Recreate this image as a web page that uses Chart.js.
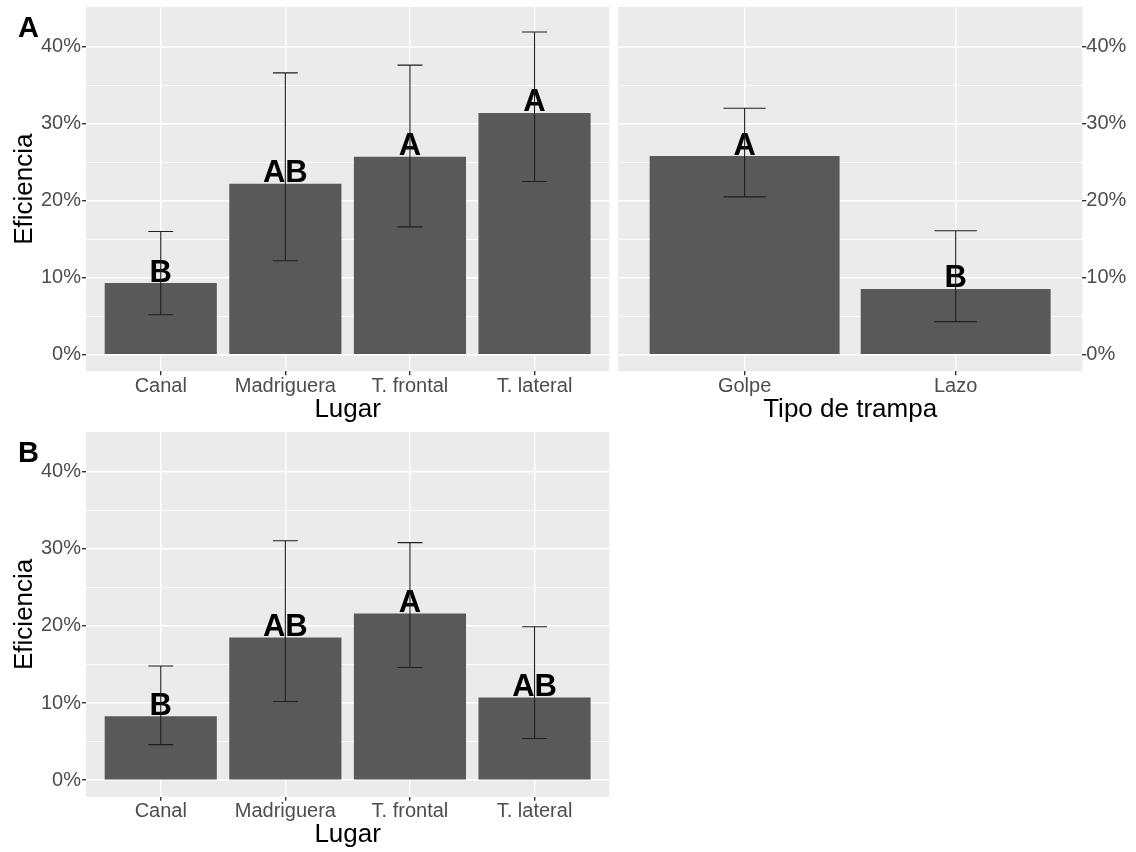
<!DOCTYPE html>
<html>
<head>
<meta charset="utf-8">
<script src="https://cdn.jsdelivr.net/npm/chart.js@4.4.1/dist/chart.umd.min.js"></script>
<style>
  html, body { margin: 0; padding: 0; background: #ffffff; overflow: hidden; }
  #wrap { position: relative; width: 1136px; height: 852px; background: #ffffff; }
  canvas { position: absolute; }
</style>
</head>
<body>
<div id="wrap">
  <canvas id="cLugarA" width="614" height="428" style="left:0px;top:0px;width:614px;height:428px"></canvas>
  <canvas id="cTrampa" width="522" height="428" style="left:614px;top:0px;width:522px;height:428px"></canvas>
  <canvas id="cLugarB" width="614" height="428" style="left:0px;top:425px;width:614px;height:428px"></canvas>
</div>
<script>
// ---- data (eficiencia, %) ----
const lugarCats = ['Canal', 'Madriguera', 'T. frontal', 'T. lateral'];
const trampaCats = ['Golpe', 'Lazo'];

// Panel A, por lugar
const efLugarA   = [9.3, 22.2, 25.7, 31.4];
const loLugarA   = [5.2, 12.2, 16.6, 22.5];
const hiLugarA   = [16.0, 36.6, 37.6, 41.9];
const letLugarA  = ['B', 'AB', 'A', 'A'];

// Panel A, por tipo de trampa
const efTrampa   = [25.8, 8.55];
const loTrampa   = [20.5, 4.3];
const hiTrampa   = [32.0, 16.1];
const letTrampa  = ['A', 'B'];

// Panel B, por lugar
const efLugarB   = [8.3, 18.5, 21.6, 10.7];
const loLugarB   = [4.6, 10.2, 14.6, 5.4];
const hiLugarB   = [14.8, 31.05, 30.8, 19.9];
const letLugarB  = ['B', 'AB', 'A', 'AB'];

// y axis: breaks every 5 %, labels every 10 %
const yTicks = [0, 5, 10, 15, 20, 25, 30, 35, 40];
const yMin = -2.15, yMax = 45.15;

const FONT = '"Liberation Sans", Arial, Helvetica, sans-serif';
Chart.defaults.font.family = FONT;

function panelPlugin(values, lo, hi, letters, tag) {
  return {
    id: 'panelDecor',
    beforeDraw(chart) {
      const { ctx, chartArea: a } = chart;
      ctx.save();
      ctx.fillStyle = '#EBEBEB';
      ctx.fillRect(a.left, a.top, a.right - a.left, a.bottom - a.top);
      ctx.restore();
    },
    afterDatasetsDraw(chart) {
      const { ctx } = chart;
      const x = chart.scales.x, y = chart.scales.y;
      ctx.save();
      // significance letters above each bar
      ctx.font = 'bold 31px ' + FONT;
      ctx.fillStyle = '#000000';
      ctx.textAlign = 'center';
      ctx.textBaseline = 'alphabetic';
      values.forEach((v, i) => {
        ctx.fillText(letters[i], x.getPixelForValue(i), y.getPixelForValue(v) - 1.5);
      });
      // error bars
      ctx.strokeStyle = '#1f1f1f';
      ctx.lineWidth = 1.1;
      lo.forEach((l, i) => {
        const cx = x.getPixelForValue(i);
        const hw = x.getPixelForValue(i + 0.1) - cx;
        const yl = y.getPixelForValue(l), yh = y.getPixelForValue(hi[i]);
        ctx.beginPath();
        ctx.moveTo(cx, yl); ctx.lineTo(cx, yh);
        ctx.moveTo(cx - hw, yl); ctx.lineTo(cx + hw, yl);
        ctx.moveTo(cx - hw, yh); ctx.lineTo(cx + hw, yh);
        ctx.stroke();
      });
      // panel tag
      if (tag) {
        ctx.font = 'bold 29px ' + FONT;
        ctx.textAlign = 'left';
        ctx.fillText(tag, 18, 36.5);
      }
      ctx.restore();
    }
  };
}

function makePanel(id, cats, values, lo, hi, letters, opt) {
  const isTick = (ctx) => ctx.tick && ctx.tick.value % 10 === 0;
  return new Chart(document.getElementById(id), {
    type: 'bar',
    data: {
      datasets: [{
        data: values.map((v, i) => ({ x: i, y: v })),
        backgroundColor: '#595959',
        borderWidth: 0,
        barPercentage: 0.9,
        categoryPercentage: 1.0
      }]
    },
    options: {
      responsive: false,
      devicePixelRatio: 1,
      animation: false,
      layout: { padding: opt.padding },
      plugins: { legend: { display: false }, tooltip: { enabled: false } },
      scales: {
        x: {
          type: 'linear',
          offset: false,
          min: -0.6,
          max: cats.length - 0.4,
          afterBuildTicks: (s) => { s.ticks = cats.map((c, i) => ({ value: i })); },
          afterFit: (s) => {
            s.height = opt.xHeight;
            s.paddingLeft = 0; s.paddingRight = 0;
          },
          ticks: {
            callback: (v) => cats[v],
            font: { size: 20 },
            color: '#4D4D4D',
            padding: -1,
            maxRotation: 0,
            autoSkip: false
          },
          grid: {
            offset: false,
            color: '#FFFFFF',
            lineWidth: 1.4,
            tickColor: '#333333',
            tickLength: 4
          },
          border: { display: false },
          title: {
            display: true,
            text: opt.xTitle,
            font: { size: 26 },
            color: '#000000',
            padding: { top: 0, bottom: 3 }
          }
        },
        y: {
          type: 'linear',
          position: opt.yPos,
          min: yMin,
          max: yMax,
          afterBuildTicks: (s) => { s.ticks = yTicks.map((v) => ({ value: v })); },
          afterFit: (s) => {
            s.width = opt.yWidth;
            s.paddingTop = 0; s.paddingBottom = 0;
          },
          ticks: {
            callback: (v) => (v % 10 === 0 ? v + '%' : ''),
            font: { size: 20 },
            color: '#4D4D4D',
            padding: opt.yPos === 'left' ? 1 : 0
          },
          grid: {
            color: '#FFFFFF',
            lineWidth: (ctx) => (isTick(ctx) ? 1.4 : 0.8),
            tickColor: (ctx) => (isTick(ctx) ? '#333333' : 'rgba(0,0,0,0)'),
            tickLength: 4
          },
          border: { display: false },
          title: {
            display: !!opt.yTitle,
            text: opt.yTitle || '',
            font: { size: 26 },
            color: '#000000',
            padding: { top: 9, bottom: 0 }
          }
        }
      }
    },
    plugins: [panelPlugin(values, lo, hi, letters, opt.tag)]
  });
}

makePanel('cLugarA', lugarCats, efLugarA, loLugarA, hiLugarA, letLugarA, {
  padding: { left: 0, top: 7, right: 4.7, bottom: 0 },
  xHeight: 56.7, yWidth: 86, yPos: 'left',
  xTitle: 'Lugar', yTitle: 'Eficiencia', tag: 'A'
});

makePanel('cTrampa', trampaCats, efTrampa, loTrampa, hiTrampa, letTrampa, {
  padding: { left: 4, top: 7, right: 0, bottom: 0 },
  xHeight: 56.7, yWidth: 53.7, yPos: 'right',
  xTitle: 'Tipo de trampa', yTitle: null, tag: null
});

makePanel('cLugarB', lugarCats, efLugarB, loLugarB, hiLugarB, letLugarB, {
  padding: { left: 0, top: 7, right: 4.7, bottom: 0 },
  xHeight: 56.3, yWidth: 86, yPos: 'left',
  xTitle: 'Lugar', yTitle: 'Eficiencia', tag: 'B'
});
</script>
</body>
</html>
